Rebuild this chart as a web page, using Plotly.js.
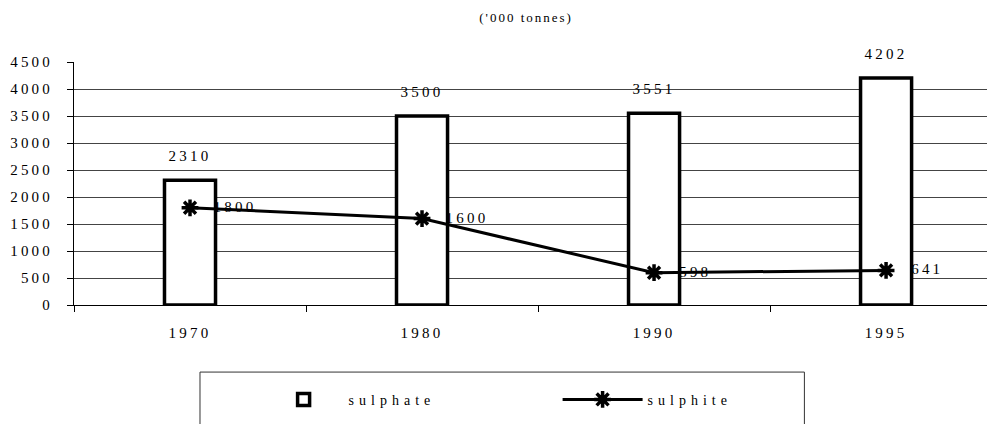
<!DOCTYPE html>
<html>
<head>
<meta charset="utf-8">
<script src="https://cdn.plot.ly/plotly-3.0.1.min.js"></script>
<style>
html,body{margin:0;padding:0;background:#fff;}
#chart{width:987px;height:424px;}
#chart .xtick text, #chart .ytick text, #chart .annotation-text-g text{letter-spacing:3.2px;}
#chart .legendtext{letter-spacing:5px;}
#chart .gtitle{letter-spacing:2px;}
</style>
</head>
<body>
<div id="chart"></div>
<script>
const years = ['1970', '1980', '1990', '1995'];
const sulphate = [2310, 3500, 3551, 4202];
const sulphite = [1800, 1600, 598, 641];
const yTicks = [0, 500, 1000, 1500, 2000, 2500, 3000, 3500, 4000, 4500];
const titleText = "('000 tonnes)";

const fam = '"Liberation Serif", "Times New Roman", serif';
const font = {family: fam, size: 15, color: '#000'};

const traces = [
  {
    type: 'bar', name: 'sulphate', x: years, y: sulphate, width: 0.22,
    marker: {color: '#fff', line: {color: '#000', width: 3.5}},
    hoverinfo: 'skip'
  },
  {
    type: 'scatter', mode: 'lines+markers', name: 'sulphite', x: years, y: sulphite,
    line: {color: '#000', width: 3},
    marker: {symbol: 'asterisk-open', size: 14, color: '#000', line: {color: '#000', width: 3.5}},
    hoverinfo: 'skip'
  }
];

const annotations = [];
years.forEach((yr, i) => {
  annotations.push({x: i, y: sulphate[i], xref: 'x', yref: 'y', text: String(sulphate[i]),
    showarrow: false, xanchor: 'center', yanchor: 'bottom', yshift: 14, font: font});
  annotations.push({x: i, y: sulphite[i], xref: 'x', yref: 'y', text: String(sulphite[i]),
    showarrow: false, xanchor: 'left', yanchor: 'middle', xshift: 28, yshift: 1, font: font});
});

const layout = {
  width: 987, height: 424,
  margin: {l: 74, r: 0, t: 62, b: 119, pad: 0, autoexpand: false},
  paper_bgcolor: '#fff', plot_bgcolor: '#fff',
  font: font,
  showlegend: true,
  title: {text: titleText, x: 0.533, xref: 'container', xanchor: 'center', y: 0.96, yanchor: 'middle', font: {family: fam, size: 13, color: '#000'}},
  xaxis: {
    type: 'category', range: [-0.5, 3.435], fixedrange: true, automargin: false,
    showline: true, linecolor: '#000', linewidth: 1,
    ticks: 'outside', tickson: 'boundaries', ticklen: 6, tickcolor: '#000', tickwidth: 1,
    showgrid: false, tickfont: font, ticklabelstandoff: 14
  },
  yaxis: {
    range: [0, 4500], tickvals: yTicks, fixedrange: true, automargin: false,
    showline: true, linecolor: '#000', linewidth: 1,
    ticks: 'outside', ticklen: 6, tickcolor: '#000', tickwidth: 1,
    showgrid: true, gridcolor: '#444', gridwidth: 1, zeroline: false,
    tickfont: font, ticklabelstandoff: 11
  },
  legend: {
    orientation: 'h', xref: 'container', yref: 'container',
    x: 0.262, xanchor: 'left', y: 0.057, yanchor: 'middle',
    entrywidth: 204, entrywidthmode: 'pixels', bgcolor: 'rgba(0,0,0,0)', borderwidth: 0,
    font: {family: fam, size: 14, color: '#000'}, itemwidth: 80
  },
  shapes: [
    {type: 'rect', xref: 'paper', yref: 'paper', x0: 0.138, x1: 0.8, y0: -0.276, y1: -0.6,
     line: {color: '#333', width: 1}, fillcolor: 'rgba(0,0,0,0)', layer: 'below'}
  ],
  annotations: annotations,
  bargap: 0.78
};

Plotly.newPlot('chart', traces, layout, {displayModeBar: false, staticPlot: true});
</script>
</body>
</html>
